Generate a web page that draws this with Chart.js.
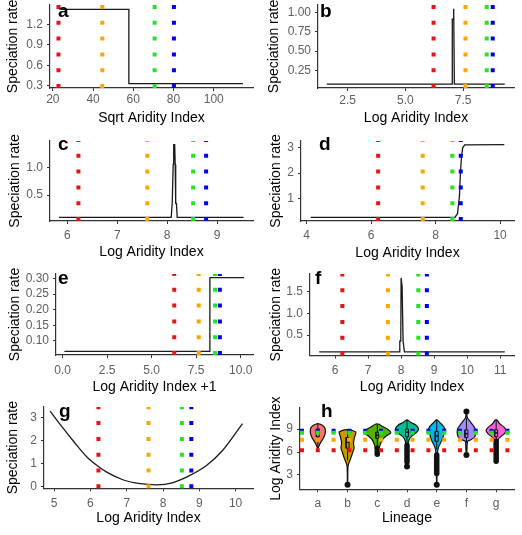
<!DOCTYPE html>
<html>
<head>
<meta charset="utf-8">
<script src="https://cdn.jsdelivr.net/npm/chart.js@4.4.1/dist/chart.umd.min.js"></script>
<style>
  body { margin: 0; background: #fff; }
  #fig { position: relative; width: 522px; height: 535px; overflow: hidden; background: #fff; }
  #fig canvas { position: absolute; }
</style>
</head>
<body>
<div id="fig">
  <canvas id="pa" width="261" height="130" style="left:0;top:0"></canvas>
  <canvas id="pb" width="261" height="130" style="left:261px;top:0"></canvas>
  <canvas id="pc" width="261" height="135" style="left:0;top:130px"></canvas>
  <canvas id="pd" width="261" height="135" style="left:261px;top:130px"></canvas>
  <canvas id="pe" width="261" height="135" style="left:0;top:265px"></canvas>
  <canvas id="pf" width="261" height="135" style="left:261px;top:265px"></canvas>
  <canvas id="pg" width="261" height="135" style="left:0;top:400px"></canvas>
  <canvas id="ph" width="261" height="145" style="left:261px;top:390px"></canvas>
</div>
<script>
// mean aridity of the four lineage groups (dotted guides): red, orange, green, blue
const guideColors = ['#ee1111', '#ffa500', '#22e622', '#0000ee'];
const guideSqrt = [22.8, 44.6, 70.6, 80.2];
const guideLog = [6.22, 7.6, 8.52, 8.78];
const guideLog1 = [6.27, 7.64, 8.56, 8.83];

// a: speciation rate vs sqrt aridity (step)
const aX = [24.2, 57.8, 57.8, 114.5];
const aY = [1.425, 1.425, 0.33, 0.33];
const aXTicks = ['20', '40', '60', '80', '100'];
const aYTicks = ['0.3', '0.6', '0.9', '1.2'];

// b: narrow spike
const bX = [1.6, 7.02, 7.03, 7.07, 7.08, 7.1, 7.12, 9.3];
const bY = [0.073, 0.073, 0.91, 0.91, 1.044, 1.044, 0.073, 0.073];
const bXTicks = ['2.5', '5.0', '7.5'];
const bYTicks = ['0.25', '0.50', '0.75', '1.00'];

// c: spike near 8.1
const cX = [5.83, 8.08, 8.1, 8.115, 8.12, 8.13, 8.15, 8.16, 8.17, 8.185, 8.2, 9.53];
const cY = [0.1, 0.1, 0.35, 0.35, 1.05, 1.405, 1.405, 1.05, 0.35, 0.35, 0.1, 0.1];
const cXTicks = ['6', '7', '8', '9'];
const cYTicks = ['0.5', '1.0'];

// d: sigmoid rise near 8.8
const dX = [4.13, 8.6, 8.68, 8.74, 8.77, 8.8, 8.84, 8.9, 10.13];
const dY = [0.255, 0.255, 0.4, 1.1, 2.0, 2.6, 3.0, 3.12, 3.13];
const dXTicks = ['4', '6', '8', '10'];
const dYTicks = ['1', '2', '3'];

// e: step on log aridity + 1
const eX = [0.1, 8.27, 8.27, 10.19];
const eY = [0.066, 0.066, 0.303, 0.303];
const eXTicks = ['0.0', '2.5', '5.0', '7.5', '10.0'];
const eYTicks = ['0.10', '0.15', '0.20', '0.25', '0.30'];

// f: spike near 8.0
const fX = [5.52, 7.94, 7.96, 7.99, 8.0, 8.02, 8.03, 8.05, 8.06, 8.08, 8.1, 11.14];
const fY = [0.115, 0.115, 0.36, 0.36, 1.81, 1.81, 1.62, 1.62, 0.36, 0.36, 0.115, 0.115];
const fXTicks = ['6', '7', '8', '9', '10', '11'];
const fYTicks = ['0.5', '1.0', '1.5'];

// g: U-shaped response
const gX = [4.89, 5.18, 5.55, 5.91, 6.19, 6.46, 6.91, 7.37, 7.83, 8.28, 8.73, 9.19, 9.64, 10.19];
const gY = [3.27, 2.66, 1.93, 1.27, 0.90, 0.61, 0.28, 0.12, 0.07, 0.17, 0.47, 0.90, 1.56, 2.73];
const gXTicks = ['5', '6', '7', '8', '9', '10'];
const gYTicks = ['0', '1', '2', '3'];

// h: log aridity per lineage (violins + boxplots)
const lineages = ['a', 'b', 'c', 'd', 'e', 'f', 'g'];
const violinColors = ['#F8766D', '#C49A00', '#53B400', '#00C094', '#00B6EB', '#A58AFF', '#FB61D7'];
const violinY = [
  [9.7, 9.5, 9.2, 8.9, 8.5, 8.1, 7.7, 7.3, 6.9, 6.5],
  [8.9, 8.6, 8.0, 7.2, 6.5, 5.9, 5.2, 4.6, 4.1, 1.7],
  [9.66, 9.3, 8.9, 8.5, 8.1, 7.6, 7.0, 6.4, 5.6],
  [10.2, 9.9, 9.5, 9.0, 8.6, 8.2, 7.8, 7.3, 6.5, 5.0, 4.1],
  [10.2, 9.8, 9.3, 8.9, 8.4, 7.8, 7.2, 6.6, 6.0, 4.0, 1.7],
  [11.3, 10.5, 10.0, 9.5, 9.0, 8.5, 8.0, 7.6, 7.4, 6.5, 5.6],
  [10.2, 9.7, 9.2, 8.8, 8.4, 8.0, 7.6, 7.0, 5.5, 4.8]
];
const violinW = [
  [0.03, 0.15, 0.23, 0.25, 0.25, 0.22, 0.17, 0.1, 0.05, 0.01],
  [0.1, 0.28, 0.24, 0.2, 0.22, 0.17, 0.11, 0.05, 0.015, 0.004],
  [0.05, 0.2, 0.38, 0.45, 0.3, 0.17, 0.1, 0.06, 0.01],
  [0.02, 0.12, 0.3, 0.39, 0.33, 0.2, 0.1, 0.05, 0.03, 0.02, 0.004],
  [0.02, 0.12, 0.24, 0.28, 0.24, 0.2, 0.13, 0.06, 0.03, 0.015, 0.004],
  [0.004, 0.03, 0.12, 0.22, 0.3, 0.31, 0.28, 0.15, 0.04, 0.02, 0.004],
  [0.03, 0.12, 0.28, 0.34, 0.28, 0.15, 0.06, 0.03, 0.02, 0.004]
];
const boxQ1 = [8.0, 6.5, 7.8, 8.0, 7.4, 7.9, 8.0];
const boxMed = [8.6, 7.3, 8.2, 8.6, 8.1, 8.4, 8.5];
const boxQ3 = [9.0, 7.9, 8.6, 9.0, 8.7, 8.9, 8.9];
const whiskerLow = [6.6, 4.9, 6.6, 6.9, 6.3, 7.2, 7.0];
const whiskerHigh = [9.7, 8.9, 9.6, 10.2, 10.2, 10.5, 10.2];
const outlierBandLow = [null, null, 5.7, 4.7, 3.2, null, 4.8];
const outlierBandHigh = [null, null, 6.5, 6.9, 5.6, null, 7.4];
const outlierLineage = [1, 3, 4, 5, 5];
const outlierValue = [1.7, 4.1, 1.7, 11.3, 5.6];
const hYTicks = ['3', '6', '9'];

const FONT = '"Liberation Sans", Arial, sans-serif';
const TICK = '#5f5f5f';
const AXIS = '#333333';
const LINE = '#1a1a1a';

function axis(a, horiz, size, tickGap, titleOff) {
  return {
    type: 'linear', min: a.min, max: a.max, bounds: 'data',
    afterBuildTicks: s => { s.ticks = a.values.map(v => ({ value: v })); },
    afterFit: s => {
      if (horiz) { s.height = size; s.paddingLeft = 0; s.paddingRight = 0; }
      else { s.width = size; s.paddingTop = 0; s.paddingBottom = 0; }
    },
    ticks: {
      color: TICK, font: { size: 12, family: FONT },
      padding: horiz ? tickGap - 3 - 7.2 : 4,
      maxRotation: 0, autoSkip: false,
      callback: (v, i) => a.labels[i]
    },
    grid: { drawOnChartArea: false, drawTicks: true, tickLength: 3, color: AXIS, lineWidth: 1 },
    border: { display: true, color: AXIS, width: 1.2 },
    title: {
      display: true, text: a.title, color: '#000', font: { size: 14, family: FONT },
      padding: horiz ? { top: 0, bottom: titleOff - 8.4 } : { top: titleOff - 8.4, bottom: 0 }
    }
  };
}

function numAxis(labels, min, max, title) {
  return { labels, values: labels.map(Number), min, max, title };
}

function pts(xs, ys) { return xs.map((x, i) => ({ x, y: ys[i] })); }

function curve(xs, ys, smooth) {
  return {
    data: pts(xs, ys), borderColor: LINE, borderWidth: 1.3, pointRadius: 0,
    tension: smooth ? 0.4 : 0, cubicInterpolationMode: smooth ? 'monotone' : 'default',
    fill: false, order: 5, clip: false
  };
}

function vGuides(vals, ymin, ymax) {
  return vals.map((v, i) => ({
    data: [{ x: v, y: ymin }, { x: v, y: ymax }],
    borderColor: guideColors[i], borderWidth: 4, borderDash: [4, 11.8], borderCapStyle: 'butt',
    pointRadius: 0, fill: false, order: 0, clip: false
  }));
}

function hGuides(vals, xmin, xmax) {
  return vals.map((v, i) => ({
    data: [{ x: xmin, y: v }, { x: xmax, y: v }],
    borderColor: guideColors[i], borderWidth: 4, borderDash: [4, 11.8], borderCapStyle: 'butt',
    pointRadius: 0, fill: false, order: 0, clip: false
  }));
}

function makePanel(id, letter, g, xa, ya, datasets) {
  const canvas = document.getElementById(id);
  const H = canvas.height;
  return new Chart(canvas, {
    type: 'line',
    data: { datasets },
    options: {
      responsive: false, animation: false, events: [],
      layout: { padding: { top: g.top, right: 8, left: 0, bottom: 0 } },
      plugins: { legend: { display: false }, tooltip: { enabled: false } },
      scales: {
        x: axis(xa, true, H - g.bottom, g.xTick, H - g.xTitle),
        y: axis(ya, false, g.left, 0, g.yTitle)
      }
    },
    plugins: [{
      id: 'panelLetter',
      afterDraw(c) {
        const ctx = c.ctx;
        ctx.save();
        ctx.font = 'bold 19px ' + FONT;
        ctx.fillStyle = '#000';
        ctx.textBaseline = 'alphabetic';
        ctx.fillText(letter, g.lx, g.ly);
        ctx.restore();
      }
    }]
  });
}

const SR = 'Speciation rate';
const LAI = 'Log Aridity Index';

makePanel('pa', 'a', { left: 50, top: 5, bottom: 88, xTick: 12, xTitle: 118, yTitle: 13, lx: 58, ly: 17 },
  numAxis(aXTicks, 18.6, 119.5, 'Sqrt Aridity Index'), numAxis(aYTicks, 0.265, 1.49, SR),
  [curve(aX, aY, false), ...vGuides(guideSqrt, 0.265, 1.49)]);

makePanel('pb', 'b', { left: 57, top: 5, bottom: 88, xTick: 13, xTitle: 118, yTitle: 13.5, lx: 59, ly: 17 },
  numAxis(bXTicks, 1.22, 9.7, LAI), numAxis(bYTicks, 0.024, 1.093, SR),
  [curve(bX, bY, false), ...vGuides(guideLog, 0.024, 1.093)]);

makePanel('pc', 'c', { left: 50, top: 11, bottom: 91, xTick: 15, xTitle: 122, yTitle: 15, lx: 58, ly: 20 },
  numAxis(cXTicks, 5.65, 9.72, LAI), numAxis(cYTicks, 0.035, 1.47, SR),
  [curve(cX, cY, false), ...vGuides(guideLog, 0.035, 1.47)]);

makePanel('pd', 'd', { left: 40, top: 11, bottom: 91, xTick: 15, xTitle: 123, yTitle: 15.5, lx: 58, ly: 20 },
  numAxis(dXTicks, 3.83, 10.43, LAI), numAxis(dYTicks, 0.11, 3.27, SR),
  [curve(dX, dY, false), ...vGuides(guideLog, 0.11, 3.27)]);

makePanel('pe', 'e', { left: 56, top: 9, bottom: 90, xTick: 16, xTitle: 121.7, yTitle: 15, lx: 58, ly: 18.5 },
  numAxis(eXTicks, -0.37, 10.69, 'Log Aridity Index +1'), numAxis(eYTicks, 0.054, 0.315, SR),
  [curve(eX, eY, false), ...vGuides(guideLog1, 0.054, 0.315)]);

makePanel('pf', 'f', { left: 49, top: 9, bottom: 90.5, xTick: 15, xTitle: 121.7, yTitle: 15.5, lx: 54, ly: 18.5 },
  numAxis(fXTicks, 5.24, 11.42, LAI), numAxis(fYTicks, 0.03, 1.9, SR),
  [curve(fX, fY, false), ...vGuides(guideLog, 0.03, 1.9)]);

makePanel('pg', 'g', { left: 44, top: 7, bottom: 88.3, xTick: 15, xTitle: 118.3, yTitle: 13.5, lx: 59, ly: 17 },
  numAxis(gXTicks, 4.72, 10.48, LAI), numAxis(gYTicks, -0.08, 3.45, SR),
  [curve(gX, gY, true), ...vGuides(guideLog, -0.08, 3.45)]);

// panel h: violins built from the density profiles above
const hDatasets = [];
lineages.forEach((name, i) => {
  const c = i + 1;
  const right = violinY[i].map((y, k) => ({ x: c + violinW[i][k], y }));
  const left = violinY[i].map((y, k) => ({ x: c - violinW[i][k], y })).reverse();
  const poly = right.concat(left, [right[0]]);
  hDatasets.push({
    data: poly, borderColor: '#111', borderWidth: 1.2, backgroundColor: violinColors[i],
    fill: 'shape', pointRadius: 0, tension: 0.3, order: 6, clip: false
  });
  hDatasets.push({
    data: [{ x: c, y: whiskerLow[i] }, { x: c, y: whiskerHigh[i] }],
    borderColor: '#111', borderWidth: 1, pointRadius: 0, fill: false, order: 5, clip: false
  });
  const bw = 0.05;
  hDatasets.push({
    data: [{ x: c - bw, y: boxQ1[i] }, { x: c + bw, y: boxQ1[i] }, { x: c + bw, y: boxQ3[i] },
           { x: c - bw, y: boxQ3[i] }, { x: c - bw, y: boxQ1[i] }],
    borderColor: '#111', borderWidth: 1, backgroundColor: violinColors[i],
    fill: 'shape', pointRadius: 0, order: 4, clip: false
  });
  hDatasets.push({
    data: [{ x: c - bw, y: boxMed[i] }, { x: c + bw, y: boxMed[i] }],
    borderColor: '#111', borderWidth: 1.5, pointRadius: 0, fill: false, order: 3, clip: false
  });
  if (outlierBandLow[i] !== null) {
    hDatasets.push({
      data: [{ x: c, y: outlierBandLow[i] }, { x: c, y: outlierBandHigh[i] }],
      borderColor: '#111', borderWidth: 5.5, borderCapStyle: 'round', pointRadius: 0,
      fill: false, order: 2, clip: false
    });
  }
});
hDatasets.push({
  data: outlierLineage.map((li, k) => ({ x: li + 1, y: outlierValue[k] })),
  showLine: false, pointRadius: 3, pointBackgroundColor: '#111', pointBorderColor: '#111',
  pointBorderWidth: 0, order: 1, clip: false
});
hDatasets.push(...hGuides(guideLog, 0.4, 7.6));

makePanel('ph', 'h', { left: 39, top: 18, bottom: 99.3, xTick: 14, xTitle: 128.3, yTitle: 15, lx: 60, ly: 27 },
  { labels: lineages, values: lineages.map((_, i) => i + 1), min: 0.4, max: 7.6, title: 'Lineage' },
  numAxis(hYTicks, 1.12, 11.76, LAI),
  hDatasets);
</script>
</body>
</html>
